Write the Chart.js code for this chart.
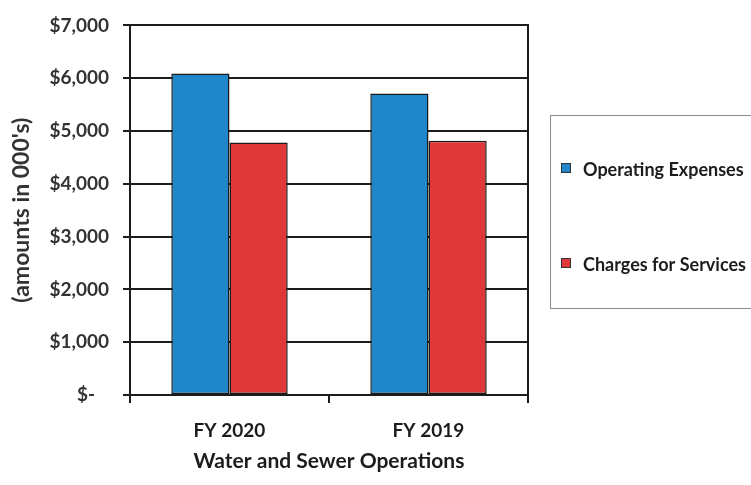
<!DOCTYPE html>
<html>
<head>
<meta charset="utf-8">
<script src="https://cdn.jsdelivr.net/npm/chart.js@4/dist/chart.umd.min.js"></script>
<style>
  html, body { margin: 0; padding: 0; background: #ffffff; }
  #wrap { position: relative; width: 751px; height: 485px; }
</style>
</head>
<body>
<div id="wrap"><canvas id="chart" width="751" height="485"></canvas></div>
<script>
// Water and sewer operations, amounts in thousands of dollars
const categories = ['FY 2020', 'FY 2019'];
const operatingExpenses = [6090, 5710];
const chargesForServices = [4780, 4815];
const seriesNames = ['Operating Expenses', 'Charges for Services'];
const yTickValues = [0, 1000, 2000, 3000, 4000, 5000, 6000, 7000];
const yTickLabels = ['$-   ', '$1,000', '$2,000', '$3,000', '$4,000', '$5,000', '$6,000', '$7,000'];

const FONT = "Lato, 'Open Sans', sans-serif";
const INK = '#1c1c1c';

// Boxed legend on the right, drawn from the dataset labels and colours
const boxedLegend = {
  id: 'boxedLegend',
  afterDraw(chart) {
    const ctx = chart.ctx;
    ctx.save();
    ctx.strokeStyle = '#8a8a8a';
    ctx.lineWidth = 1;
    ctx.strokeRect(550.5, 115.5, 260, 193);
    const rows = [168, 263];
    chart.data.datasets.forEach((ds, i) => {
      const y = rows[i];
      ctx.fillStyle = ds.backgroundColor;
      ctx.fillRect(561, y - 5, 10, 10);
      ctx.strokeStyle = '#333';
      ctx.lineWidth = 1;
      ctx.strokeRect(561.5, y - 4.5, 9, 9);
      ctx.fillStyle = INK;
      ctx.font = "bold 18px " + FONT;
      ctx.textBaseline = 'middle';
      ctx.textAlign = 'left';
      ctx.fillText(ds.label, 583, y + 2);
    });
    ctx.restore();
  }
};

new Chart(document.getElementById('chart'), {
  type: 'bar',
  data: {
    labels: categories,
    datasets: [
      {
        label: seriesNames[0],
        data: operatingExpenses,
        backgroundColor: '#1f87c9',
        borderColor: '#1a1a1a',
        borderWidth: 1.5,
        borderSkipped: false
      },
      {
        label: seriesNames[1],
        data: chargesForServices,
        backgroundColor: '#e0383a',
        borderColor: '#1a1a1a',
        borderWidth: 1.5,
        borderSkipped: false
      }
    ]
  },
  options: {
    responsive: false,
    animation: false,
    devicePixelRatio: 1,
    categoryPercentage: 0.585,
    barPercentage: 1.0,
    layout: { padding: { top: 20, right: 222, bottom: 0, left: 0 } },
    plugins: {
      legend: { display: false },
      tooltip: { enabled: false }
    },
    scales: {
      x: {
        afterFit(scale) { scale.height = 90; },
        grid: {
          display: true,
          drawOnChartArea: false,
          drawTicks: true,
          tickLength: 8,
          color: INK,
          lineWidth: 2
        },
        border: { display: true, color: INK, width: 2 },
        ticks: {
          color: INK,
          padding: 16,
          font: { family: FONT, size: 19, weight: 'bold' }
        },
        title: {
          display: true,
          text: 'Water and Sewer Operations',
          color: INK,
          font: { family: FONT, size: 21, weight: 'bold' },
          padding: { top: 4, bottom: 11 }
        }
      },
      y: {
        min: 0,
        max: 7000,
        afterFit(scale) { scale.width = 130; },
        afterBuildTicks(scale) {
          scale.ticks = yTickValues.map(v => ({ value: v }));
        },
        grid: {
          color: INK,
          lineWidth: 2,
          drawTicks: true,
          tickLength: 7
        },
        border: { display: true, color: INK, width: 2 },
        ticks: {
          color: '#333333',
          padding: 14,
          font: { family: FONT, size: 19, weight: 'bold' },
          callback(value) {
            const i = yTickValues.indexOf(value);
            return i >= 0 ? yTickLabels[i] : '';
          }
        },
        title: {
          display: true,
          text: "(amounts in 000's)",
          color: '#333333',
          font: { family: FONT, size: 23, weight: 'bold' },
          padding: { top: 8, bottom: 0 }
        }
      },
      yRight: {
        position: 'right',
        min: 0,
        max: 7000,
        afterFit(scale) { scale.width = 1; },
        grid: { drawOnChartArea: false, drawTicks: false },
        border: { display: true, color: INK, width: 2 },
        ticks: { display: false }
      }
    }
  },
  plugins: [boxedLegend]
});
</script>
</body>
</html>
